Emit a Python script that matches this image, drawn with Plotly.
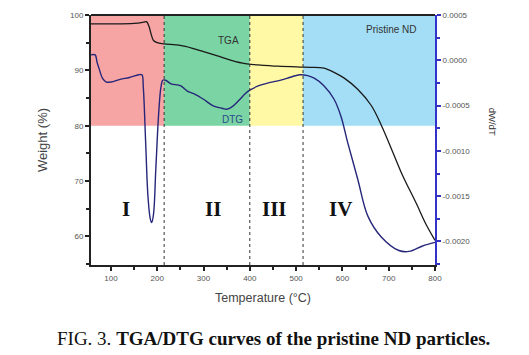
import plotly.graph_objects as go

# ---- data ----
tga_T = [57, 100, 150, 170, 177, 182, 187, 192, 200, 215, 250, 280, 300, 330, 360, 390, 417, 460,
         508, 530, 560, 585, 604, 633, 662, 684, 710, 729, 760, 780, 800]
tga_w = [98.4, 98.4, 98.5, 98.7, 98.8, 98.0, 96.5, 95.4, 95.0, 94.8, 94.5, 93.9, 93.4, 92.6, 91.8,
         91.2, 91.0, 90.75, 90.6, 90.55, 90.4, 89.5, 88.6, 86.6, 83.7, 80.1, 75.0, 71.2, 65.9, 62.3, 59.3]

dtg_T = [57, 66, 70, 75, 82, 90, 100, 120, 140, 160, 167, 170, 175, 180, 185, 188, 192, 197, 203,
         208, 212, 218, 230, 250, 265, 280, 300, 320, 340, 350, 360, 375, 390, 400, 417, 440, 458,
         480, 508, 525, 540, 560, 582, 597, 611, 633, 655, 684, 722, 744, 773, 800]
dtg_v = [0.00006, 0.00006, -0.00002, -0.0001, -0.0002, -0.00024, -0.00024, -0.00021, -0.00019,
         -0.00016, -0.00016, -0.0003, -0.0009, -0.0015, -0.00175, -0.00179, -0.0017, -0.0012,
         -0.0006, -0.0003, -0.00022, -0.00022, -0.00026, -0.00028, -0.00034, -0.00037, -0.00043,
         -0.0005, -0.00053, -0.00054, -0.00052, -0.00045, -0.00037, -0.00033, -0.000286, -0.00025,
         -0.00023, -0.0002, -0.00016, -0.00017, -0.0002, -0.00028, -0.00043, -0.00062, -0.0009,
         -0.00131, -0.00172, -0.00195, -0.0021, -0.00211, -0.00205, -0.00201]

region_edges = [57, 215, 400, 515, 800]
region_colors = ["rgb(246,164,164)", "rgb(122,212,163)", "rgb(255,248,165)", "rgb(163,222,246)"]
region_labels = ["I", "II", "III", "IV"]
region_label_T = [133, 320, 453, 595]
shade_low, shade_high = 80, 100

left_ticks = [60, 70, 80, 90, 100]
bottom_ticks = [100, 200, 300, 400, 500, 600, 700, 800]
right_ticks = [0.0005, 0.0, -0.0005, -0.0010, -0.0015, -0.0020]
right_ticktext = ["0.0005", "0.0000", "-0.0005", "-0.0010", "-0.0015", "-0.0020"]

fig = go.Figure()

shapes = []
for i in range(4):
    shapes.append(dict(type="rect", xref="x", yref="y", x0=region_edges[i], x1=region_edges[i + 1],
                       y0=shade_low, y1=shade_high, fillcolor=region_colors[i], line_width=0,
                       layer="below"))
for e in region_edges[1:-1]:
    shapes.append(dict(type="line", xref="x", yref="paper", x0=e, x1=e, y0=0, y1=1,
                       line=dict(color="#333", width=1, dash="dot")))
shapes.append(dict(type="line", xref="paper", yref="paper", x0=0, x1=1, y0=1, y1=1,
                   line=dict(color="#222", width=2)))

fig.add_trace(go.Scatter(x=tga_T, y=tga_w, mode="lines", line=dict(color="#1a1a1a", width=1.3),
                         line_shape="spline", showlegend=False))
fig.add_trace(go.Scatter(x=dtg_T, y=dtg_v, mode="lines", yaxis="y2",
                         line=dict(color="#26267a", width=1.4), line_shape="spline", showlegend=False))

ann = []
for lab, t in zip(region_labels, region_label_T):
    ann.append(dict(x=t, y=65, xref="x", yref="y", text="<b>" + lab + "</b>", showarrow=False,
                    font=dict(family="Liberation Serif", size=21, color="#111")))
ann.append(dict(x=355, y=95.4, xref="x", yref="y", text="TGA", showarrow=False,
                font=dict(family="Liberation Sans", size=10, color="#333")))
ann.append(dict(x=362, y=81.2, xref="x", yref="y", text="DTG", showarrow=False,
                font=dict(family="Liberation Sans", size=10, color="#2a4a8a")))
ann.append(dict(x=705, y=97.3, xref="x", yref="y", text="Pristine ND", showarrow=False,
                font=dict(family="Liberation Sans", size=10, color="#333")))
ann.append(dict(x=1.189, y=0.575, xref="paper", yref="paper", text="dW/dT", showarrow=False,
                textangle=90, font=dict(family="Liberation Sans", size=9.5, color="#333")))
ann.append(dict(x=0.53, y=-0.295, xref="paper", yref="paper", xanchor="center", yanchor="middle",
                text="FIG. 3. <b>TGA/DTG curves of the pristine ND particles.</b>", showarrow=False,
                font=dict(family="Liberation Serif", size=19, color="#111")))

tickfont = dict(family="Liberation Sans", size=8, color="#555")
fig.update_layout(
    width=529, height=355,
    margin=dict(l=91, r=94, t=11, b=90),
    paper_bgcolor="white", plot_bgcolor="white",
    shapes=shapes, annotations=ann,
    xaxis=dict(range=[57, 800], tickvals=bottom_ticks, ticks="outside", ticklen=4, tickwidth=1.5,
               tickcolor="#222", showline=True, linecolor="#222", linewidth=2, showgrid=False,
               zeroline=False, tickfont=tickfont,
               minor=dict(dtick=50, tick0=50, ticks="outside", ticklen=3, tickcolor="#222", showgrid=False),
               title=dict(text="Temperature (°C)", font=dict(family="Liberation Sans", size=12.5, color="#444"),
                          standoff=12)),
    yaxis=dict(range=[54.85, 100], tickvals=left_ticks, ticks="outside", ticklen=4, tickwidth=1.5,
               tickcolor="#222", showline=True, linecolor="#222", linewidth=2, showgrid=False,
               zeroline=False, tickfont=tickfont,
               minor=dict(dtick=5, tick0=0, ticks="outside", ticklen=3, tickcolor="#222", showgrid=False),
               title=dict(text="Weight (%)", font=dict(family="Liberation Sans", size=13, color="#444"),
                          standoff=19)),
    yaxis2=dict(range=[-0.00226, 0.0005], overlaying="y", side="right", tickvals=right_ticks,
                ticktext=right_ticktext, ticks="outside", ticklen=4, tickwidth=1.5, tickcolor="#3333bb",
                showline=True, linecolor="#3333cc", linewidth=2, showgrid=False, zeroline=False,
                tickfont=tickfont,
                minor=dict(dtick=0.00025, tick0=0, ticks="outside", ticklen=3, tickcolor="#3333bb",
                           showgrid=False)),
)

# remove the page's default body margin so the figure sits at the window's top-left corner
fig.write_html("out.html", config={"displayModeBar": False},
               post_script="document.body.style.margin='0px';")
